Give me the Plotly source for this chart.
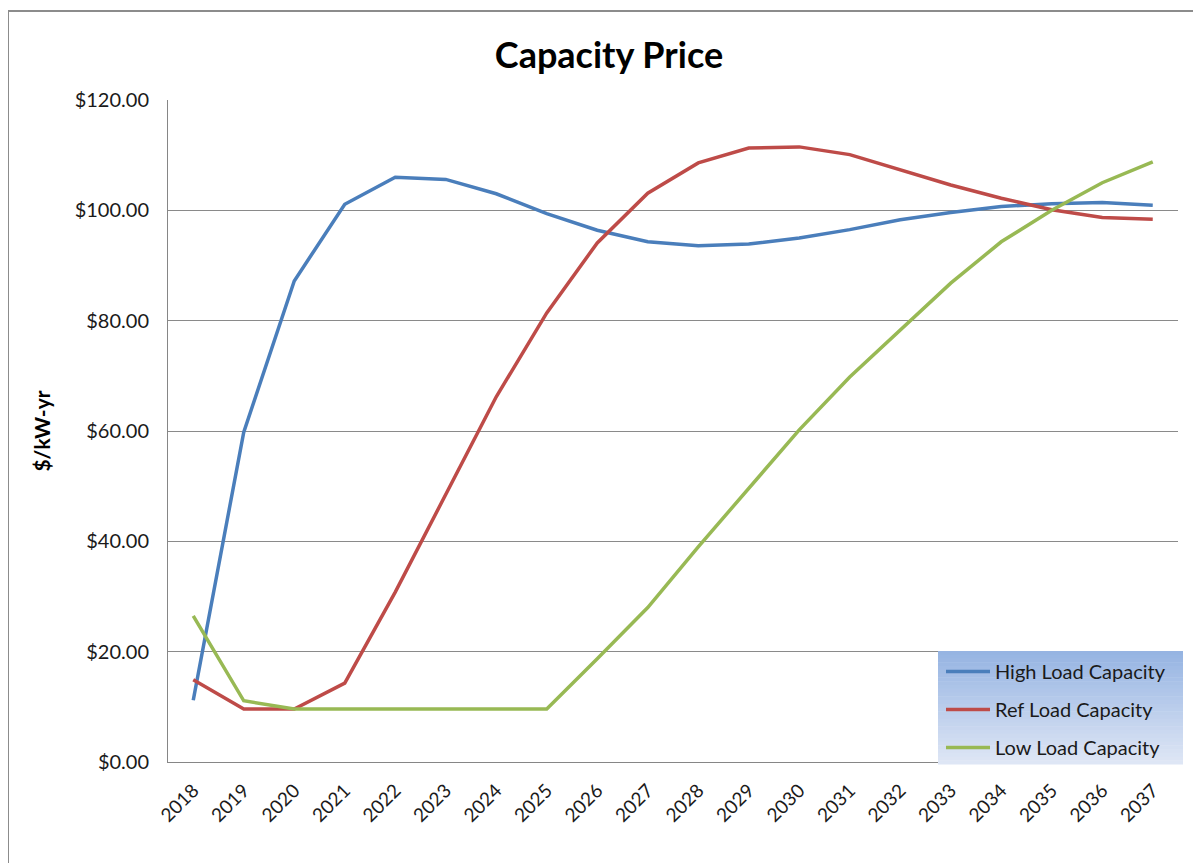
import plotly.graph_objects as go

years = [str(y) for y in range(2018, 2038)]
high_load = [11.2, 59.8, 87.2, 101.1, 106.0, 105.6, 103.0, 99.4, 96.4, 94.3,
             93.6, 93.9, 95.0, 96.5, 98.3, 99.6, 100.7, 101.2, 101.4, 100.9]
ref_load = [14.9, 9.6, 9.6, 14.3, 30.8, 48.4, 66.2, 81.4, 94.1, 103.1,
            108.6, 111.3, 111.5, 110.1, 107.4, 104.6, 102.2, 100.1, 98.7, 98.4]
low_load = [26.5, 11.1, 9.6, 9.6, 9.6, 9.6, 9.6, 9.6, 18.7, 28.0,
            39.0, 49.6, 60.2, 69.8, 78.4, 86.8, 94.3, 100.0, 105.0, 108.8]

series = [
    ("High Load Capacity", high_load, "#4a7ebb"),
    ("Ref Load Capacity", ref_load, "#be4b48"),
    ("Low Load Capacity", low_load, "#98b954"),
]

FONT = "Lato, 'Open Sans', sans-serif"
OFF = 8  # page body margin
W, H = 1201 - OFF, 863 - OFF

fig = go.Figure()
for i, (name, vals, col) in enumerate(series):
    fig.add_trace(go.Scatter(
        x=years, y=vals, name=name, mode="lines",
        line=dict(color=col, width=3.5), legendgroup=f"g{i}",
    ))

# plot area in screen pixels: x 168..1178, y 100..762
PL, PR, PT, PB = 168, 1178, 100, 762
def px(x):
    return (x - PL) / (PR - PL)
def py(y):
    return (PB - y) / (PB - PT)

shapes = []
# gradient legend background
lx0, lx1, ly0, ly1 = 938, 1183, 651, 764
n = 30
c_top = (150, 180, 226)
c_bot = (222, 230, 245)
for k in range(n):
    t = k / (n - 1)
    c = tuple(round(c_top[j] + (c_bot[j] - c_top[j]) * t) for j in range(3))
    ya = ly0 + (ly1 - ly0) * k / n
    yb = ly0 + (ly1 - ly0) * (k + 1) / n + 0.5
    shapes.append(dict(type="rect", xref="paper", yref="paper",
                       x0=px(lx0), x1=px(lx1), y0=py(yb), y1=py(ya),
                       fillcolor=f"rgb{c}", line=dict(width=0), layer="above"))
# outer frame
shapes.append(dict(type="rect", xref="paper", yref="paper",
                   x0=px(8), x1=px(1260), y0=py(920), y1=py(11),
                   line=dict(color="#8c8c8c", width=2), layer="below"))

fig.update_layout(
    width=W, height=H,
    margin=dict(l=PL - OFF, r=1201 - PR, t=PT - OFF, b=863 - PB, pad=0),
    paper_bgcolor="white", plot_bgcolor="white",
    font=dict(family=FONT, size=20, color="#1a1a1a"),
    title=dict(text="<b>Capacity Price</b>", x=(609 - OFF) / W, xanchor="center",
               y=1 - (55 - OFF) / H, yanchor="middle",
               font=dict(family=FONT, size=36, color="black")),
    xaxis=dict(type="category", showgrid=False, tickangle=-45,
               showline=True, linecolor="#868686", linewidth=1,
               ticks="", ticklabelstandoff=9,
               tickfont=dict(size=19, color="#1a1a1a"),
               range=[-0.5, 19.5]),
    yaxis=dict(range=[0, 120], dtick=20, tickprefix="$", tickformat=".2f",
               showgrid=True, gridcolor="#8a8a8a", gridwidth=1,
               showline=True, linecolor="#868686", linewidth=1,
               ticks="", zeroline=False, ticklabelstandoff=14,
               tickfont=dict(size=20, color="#1a1a1a"),
               title=dict(text="<b>$/kW-yr</b>", standoff=18,
                          font=dict(family=FONT, size=21, color="black"))),
    legend=dict(x=px(941), y=py(652), xanchor="left", yanchor="top",
                bgcolor="rgba(0,0,0,0)", borderwidth=0,
                font=dict(family=FONT, size=20, color="#1a1a1a"),
                tracegroupgap=9, itemwidth=44),
    shapes=shapes,
    showlegend=True,
)

fig.write_html("out.html")
